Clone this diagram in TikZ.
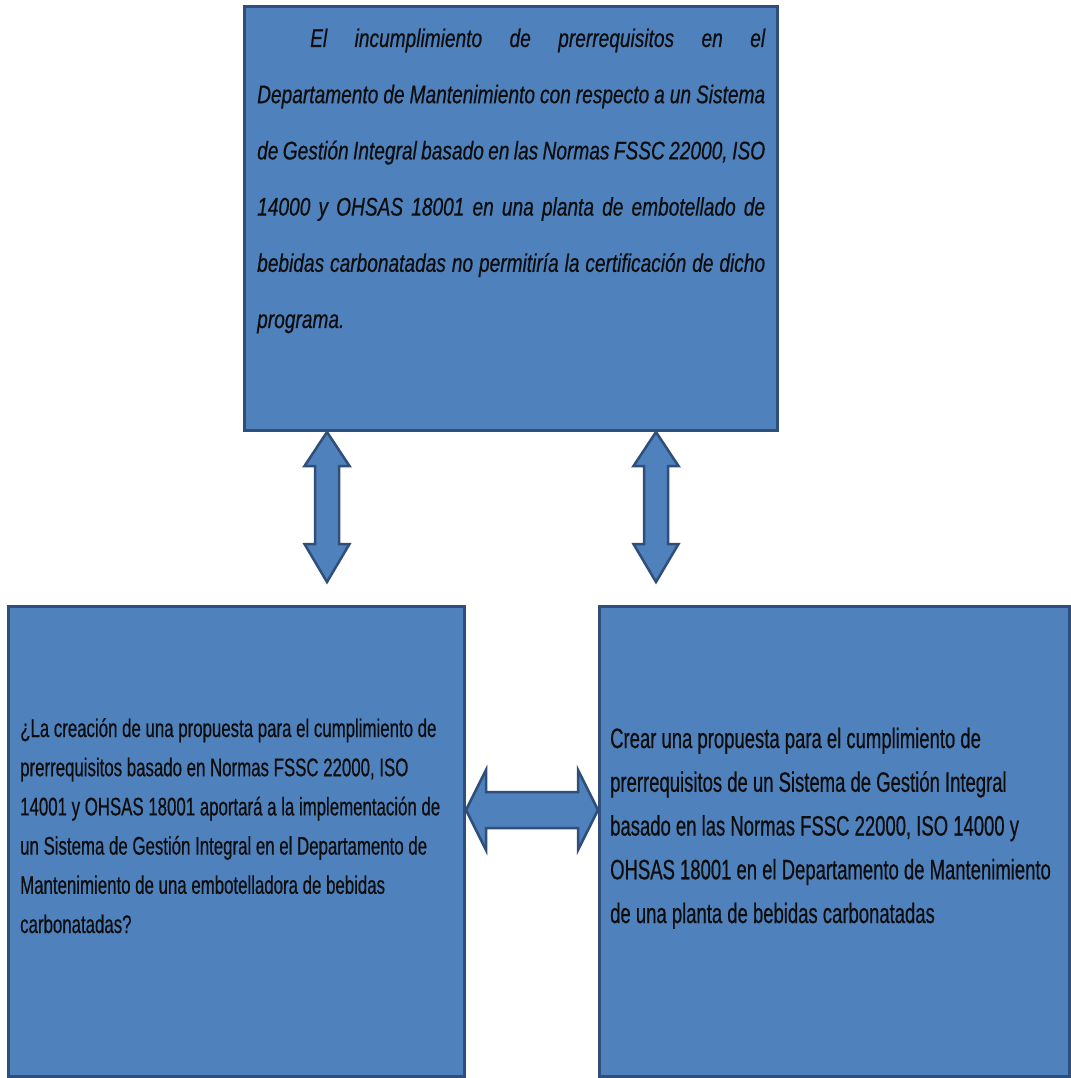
\documentclass[tikz,border=0pt]{standalone}
\usepackage{fontspec}
\setmainfont{Liberation Sans}
\newfontfamily\topfnt{Liberation Sans}[FakeStretch=0.75,FakeBold=0.5]
\newfontfamily\leftfnt{Liberation Sans}[FakeStretch=0.66,FakeBold=0.5]
\newfontfamily\rightfnt{Liberation Sans}[FakeStretch=0.66,FakeBold=0.5]
\usetikzlibrary{calc}
\definecolor{boxfill}{HTML}{4F81BD}
\definecolor{boxline}{HTML}{2F4E79}
\definecolor{txt}{HTML}{0D0D0D}
\begin{document}
\begin{tikzpicture}[x=1pt,y=-1pt,
  panel/.style={draw=boxline,fill=boxfill,line width=3pt,rectangle,inner sep=0pt,anchor=north west},
  blockarrow/.style={draw=boxline,fill=boxfill,line width=2.5pt,line join=miter},
  paneltext/.style={inner sep=0pt,anchor=base west,text=txt}]
\useasboundingbox (0,0) rectangle (1070,1078);
% boxes
\node[panel,minimum width=533pt,minimum height=424pt] (top) at (243,5) {};
\node[panel,minimum width=456pt,minimum height=470pt] (lbox) at (7,605) {};
\node[panel,minimum width=470pt,minimum height=470pt] (rbox) at (598,605) {};
% texts
\node[paneltext,text width=508pt,align=justify,font=\topfnt\itshape\fontsize{25.5}{56.2}\selectfont] (toptext) at (257,47)
 {\hspace*{53pt}El incumplimiento de prerrequisitos en el\linebreak
  Departamento de Mantenimiento con respecto a un Sistema\linebreak
  de Gestión Integral basado en las Normas FSSC 22000, ISO\linebreak
  14000 y OHSAS 18001 en una planta de embotellado de\linebreak
  bebidas carbonatadas no permitiría la certificación de dicho\linebreak
  programa.};
% anchored at the baseline of the last line
\node[paneltext,align=left,font=\leftfnt\fontsize{25.5}{39.2}\selectfont] (ltext) at (20,933)
 {¿La creación de una propuesta para el cumplimiento de\\
  prerrequisitos basado en Normas FSSC 22000, ISO\\
  14001 y OHSAS 18001 aportará a la implementación de\\
  un Sistema de Gestión Integral en el Departamento de\\
  Mantenimiento de una embotelladora de bebidas\\
  carbonatadas?};
\node[paneltext,align=left,font=\rightfnt\fontsize{28}{43.75}\selectfont] (rtext) at (610,923)
 {Crear una propuesta para el cumplimiento de\\
  prerrequisitos de un Sistema de Gestión Integral\\
  basado en las Normas FSSC 22000, ISO 14000 y\\
  OHSAS 18001 en el Departamento de Mantenimiento\\
  de una planta de bebidas carbonatadas};
% vertical arrows
\coordinate (a1) at (top.south -| 327,0);
\coordinate (b1) at ($(lbox.north -| 327,0)+(0,-23)$);
\coordinate (a2) at (top.south -| 656,0);
\coordinate (b2) at ($(rbox.north -| 656,0)+(0,-23)$);
\foreach \a/\b in {a1/b1,a2/b2}{
 \draw[blockarrow] (\a) -- ++(22.5,34) -- ++(-10.5,0) -- ($(\b)+(12,-38)$) -- ++(10.5,0) -- (\b)
   -- ++(-22.5,-38) -- ++(10.5,0) -- ($(\a)+(-12,34)$) -- ++(-10.5,0) -- cycle;
}
% horizontal arrow
\coordinate (hl) at (lbox.east |- 0,810);
\coordinate (hr) at (rbox.west |- 0,810);
\draw[blockarrow] (hl) -- ++(20,-40) -- ++(0,22) -- ($(hr)+(-20,-18)$) -- ++(0,-22) -- (hr)
   -- ++(-20,40) -- ++(0,-22) -- ($(hl)+(20,18)$) -- ++(0,22) -- cycle;
\end{tikzpicture}
\end{document}
